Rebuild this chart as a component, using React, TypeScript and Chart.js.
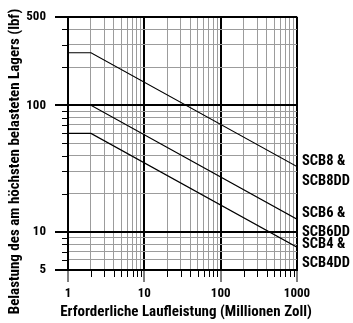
import React, { useEffect, useRef } from "react";
import { Chart, registerables } from "chart.js";

Chart.register(...registerables);

// ---- data ----
const lifeMillionInches = [1, 2, 1000];
const loadSCB8 = [260, 260, 32.8];
const loadSCB6 = [100, 100, 12.6];
const loadSCB4 = [60, 60, 7.56];
const seriesLabels = [
  ["SCB8 &", "SCB8DD"],
  ["SCB6 &", "SCB6DD"],
  ["SCB4 &", "SCB4DD"],
];
const xTickValues = [1, 2, 3, 4, 5, 6, 7, 8, 9, 10, 20, 30, 40, 50, 60, 70, 80, 90, 100, 200, 300, 400, 500, 600, 700, 800, 900, 1000];
const xMajorTicks = [1, 10, 100, 1000];
const yTickValues = [5, 6, 7, 8, 9, 10, 20, 30, 40, 50, 60, 70, 80, 90, 100, 200, 300, 400, 500];
const yMajorTicks = [5, 10, 100, 500];
const xTitle = "Erforderliche Laufleistung (Millionen Zoll)";
const yTitle = "Belastung des am höchsten belasteten Lagers (lbf)";

const FAMILY = "'Roboto Condensed', 'DejaVu Sans Condensed', sans-serif";
const GRID_GRAY = "#9c9c9c";

// baseline offsets (px) of the two label lines relative to each line's end point
const labelOffsets = [
  [-2, 18],
  [-2.5, 16.5],
  [0.5, 20],
];

const extrasPlugin = {
  id: "extras",
  afterDraw(chart: any) {
    const { ctx, chartArea, scales } = chart;
    const xs = scales.x;
    const ys = scales.y;
    ctx.save();
    // minor tick marks (shorter than major ones)
    ctx.strokeStyle = "#000";
    ctx.lineWidth = 1;
    ctx.beginPath();
    xTickValues.forEach((v) => {
      if (xMajorTicks.includes(v)) return;
      const px = Math.round(xs.getPixelForValue(v)) + 0.5;
      ctx.moveTo(px, chartArea.bottom);
      ctx.lineTo(px, chartArea.bottom + 7);
    });
    yTickValues.forEach((v) => {
      if (yMajorTicks.includes(v)) return;
      const py = Math.round(ys.getPixelForValue(v)) + 0.5;
      ctx.moveTo(chartArea.left, py);
      ctx.lineTo(chartArea.left - 6, py);
    });
    ctx.stroke();
    // series labels at line ends
    const ends = [loadSCB8, loadSCB6, loadSCB4].map((a) => a[a.length - 1]);
    ctx.fillStyle = "#000";
    ctx.font = `bold 14.5px ${FAMILY}`;
    ctx.textAlign = "left";
    ctx.textBaseline = "alphabetic";
    seriesLabels.forEach((lines, i) => {
      const yEnd = ys.getPixelForValue(ends[i]);
      lines.forEach((t, j) => {
        ctx.fillText(t, chartArea.right + 5, yEnd + labelOffsets[i][j]);
      });
    });
    // axis titles
    ctx.font = `bold 15px ${FAMILY}`;
    ctx.textAlign = "center";
    ctx.textBaseline = "middle";
    ctx.fillText(xTitle, (chartArea.left + chartArea.right) / 2 + 3.5, chart.height - 10.5);
    ctx.translate(15, chart.height / 2);
    ctx.rotate(-Math.PI / 2);
    ctx.fillText(yTitle, 0, 0);
    ctx.restore();
  },
};

export default function App() {
  const ref = useRef<HTMLCanvasElement>(null);
  useEffect(() => {
    if (!ref.current) return;
    const mk = (arr: number[]) => lifeMillionInches.map((x, i) => ({ x, y: arr[i] }));
    const ds = (label: string, arr: number[]) => ({
      label,
      data: mk(arr),
      borderColor: "#000",
      borderWidth: 1.2,
      pointRadius: 0,
      fill: false,
      tension: 0,
    });
    const chart = new Chart(ref.current, {
      type: "line",
      data: {
        datasets: [ds("SCB8", loadSCB8), ds("SCB6", loadSCB6), ds("SCB4", loadSCB4)],
      },
      plugins: [extrasPlugin],
      options: {
        animation: false,
        responsive: false,
        devicePixelRatio: 1,
        layout: { padding: { left: 0, top: 16, right: 56, bottom: 0 } },
        plugins: { legend: { display: false }, tooltip: { enabled: false } },
        scales: {
          x: {
            type: "logarithmic",
            min: 1,
            max: 1000,
            afterBuildTicks: (s: any) => {
              s.ticks = xTickValues.map((v) => ({ value: v }));
            },
            afterFit: (s: any) => {
              s.height = 53;
            },
            ticks: {
              autoSkip: false,
              maxRotation: 0,
              padding: 4,
              color: "#000",
              font: { family: FAMILY, size: 13, weight: "bold" },
              callback: (v: any) => (xMajorTicks.includes(Number(v)) ? String(v) : ""),
            },
            grid: {
              color: (c: any) => (xMajorTicks.includes(c.tick?.value) ? "#000" : GRID_GRAY),
              lineWidth: (c: any) => (xMajorTicks.includes(c.tick?.value) ? 2 : 1),
              tickLength: 12,
              tickColor: (c: any) => (xMajorTicks.includes(c.tick?.value) ? "#000" : "rgba(0,0,0,0)"),
              tickWidth: 1,
            },
            border: { display: true, color: "#000", width: 2 },
            title: { display: false },
          },
          y: {
            type: "logarithmic",
            min: 5,
            max: 500,
            afterBuildTicks: (s: any) => {
              s.ticks = yTickValues.map((v) => ({ value: v }));
            },
            afterFit: (s: any) => {
              s.width = 68;
            },
            ticks: {
              autoSkip: false,
              padding: 9,
              color: "#000",
              font: { family: FAMILY, size: 13, weight: "bold" },
              callback: (v: any) => (yMajorTicks.includes(Number(v)) ? String(v) : ""),
            },
            grid: {
              color: (c: any) => (yMajorTicks.includes(c.tick?.value) ? "#000" : GRID_GRAY),
              lineWidth: (c: any) => (yMajorTicks.includes(c.tick?.value) ? 2 : 1),
              tickLength: 13,
              tickColor: (c: any) => (yMajorTicks.includes(c.tick?.value) ? "#000" : "rgba(0,0,0,0)"),
              tickWidth: 2,
            },
            border: { display: true, color: "#000", width: 2 },
            title: { display: false },
          },
        },
      },
    } as any);
    return () => chart.destroy();
  }, []);
  return (
    <div style={{ position: "fixed", left: 0, top: 0, width: 353, height: 323 }}>
      <canvas ref={ref} width={353} height={323} style={{ display: "block" }} />
    </div>
  );
}
